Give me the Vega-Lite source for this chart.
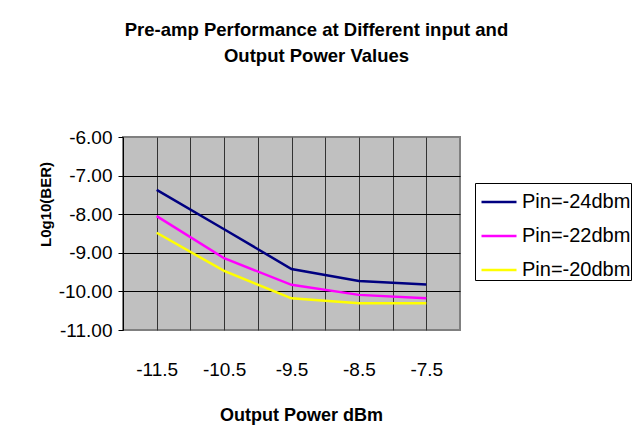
{
  "$schema": "https://vega.github.io/schema/vega-lite/v6.json",
  "width": 337,
  "height": 193,
  "autosize": {"type": "none"},
  "padding": {"left": 123, "top": 137, "right": 172, "bottom": 110},
  "background": "white",
  "config": {
    "font": "Liberation Sans",
    "view": {"fill": "#C0C0C0", "stroke": "#808080", "strokeWidth": 2}
  },
  "title": {
    "text": ["Pre-amp Performance at Different input and", "Output Power Values"],
    "fontSize": 18.5,
    "fontWeight": "bold",
    "color": "black",
    "anchor": "middle",
    "dx": 25,
    "offset": 63,
    "lineHeight": 26
  },
  "data": {
    "values": [
      {"series": "Pin=-24dbm", "out": -11.5, "ber": -7.37},
      {"series": "Pin=-24dbm", "out": -10.5, "ber": -8.39},
      {"series": "Pin=-24dbm", "out": -9.5, "ber": -9.42},
      {"series": "Pin=-24dbm", "out": -8.5, "ber": -9.73},
      {"series": "Pin=-24dbm", "out": -7.5, "ber": -9.82},
      {"series": "Pin=-22dbm", "out": -11.5, "ber": -8.05},
      {"series": "Pin=-22dbm", "out": -10.5, "ber": -9.14},
      {"series": "Pin=-22dbm", "out": -9.5, "ber": -9.83},
      {"series": "Pin=-22dbm", "out": -8.5, "ber": -10.09},
      {"series": "Pin=-22dbm", "out": -7.5, "ber": -10.18},
      {"series": "Pin=-20dbm", "out": -11.5, "ber": -8.48},
      {"series": "Pin=-20dbm", "out": -10.5, "ber": -9.47},
      {"series": "Pin=-20dbm", "out": -9.5, "ber": -10.18},
      {"series": "Pin=-20dbm", "out": -8.5, "ber": -10.31},
      {"series": "Pin=-20dbm", "out": -7.5, "ber": -10.31}
    ]
  },
  "mark": {"type": "line", "strokeWidth": 2.5},
  "encoding": {
    "x": {
      "field": "out",
      "type": "quantitative",
      "scale": {"domain": [-12, -7], "nice": false, "zero": false},
      "axis": {
        "title": "Output Power dBm",
        "values": [-12, -11.5, -11, -10.5, -10, -9.5, -9, -8.5, -8, -7.5],
        "labelExpr": "datum.value % 1 == 0 ? '' : '-' + format(abs(datum.value), '.1f')",
        "ticks": false,
        "tickSize": 0,
        "domain": false,
        "grid": true,
        "gridColor": "#333333",
        "gridWidth": 1,
        "gridOpacity": {"condition": {"test": "datum.value == -12", "value": 0}, "value": 1},
        "labelFontSize": 19,
        "labelColor": "black",
        "labelBaseline": "alphabetic",
        "labelPadding": 45,
        "labelFlush": false,
        "labelOverlap": false,
        "titleFontSize": 18,
        "titleFontWeight": "bold",
        "titleColor": "black",
        "titleX": 178,
        "titleY": 90,
        "titleBaseline": "alphabetic"
      }
    },
    "y": {
      "field": "ber",
      "type": "quantitative",
      "scale": {"domain": [-11, -6], "nice": false, "zero": false},
      "axis": {
        "title": "L0g10(BER)",
        "values": [-11, -10, -9, -8, -7, -6],
        "labelExpr": "'-' + format(abs(datum.value), '.2f')",
        "ticks": true,
        "tickSize": 5,
        "tickColor": "black",
        "domain": true,
        "domainColor": "black",
        "domainWidth": 1,
        "grid": true,
        "gridColor": "black",
        "gridWidth": 1,
        "gridOpacity": {"condition": {"test": "datum.value == -6 || datum.value == -11", "value": 0}, "value": 1},
        "labelFontSize": 19,
        "labelColor": "black",
        "labelPadding": 6,
        "labelFlush": false,
        "labelOverlap": false,
        "titleFontSize": 15,
        "titleFontWeight": "bold",
        "titleColor": "black",
        "titleX": -73,
        "titleY": 67,
        "titleBaseline": "alphabetic"
      }
    },
    "color": {
      "field": "series",
      "type": "nominal",
      "scale": {
        "domain": ["Pin=-24dbm", "Pin=-22dbm", "Pin=-20dbm"],
        "range": ["#000080", "#FF00FF", "#FFFF00"]
      },
      "legend": {
        "title": null,
        "orient": "none",
        "legendX": 352,
        "legendY": 46,
        "symbolType": "stroke",
        "symbolSize": 1225,
        "symbolStrokeWidth": 2.5,
        "symbolOffset": 5,
        "labelOffset": 4,
        "labelFontSize": 20,
        "labelColor": "black",
        "labelLimit": 0,
        "padding": 0,
        "rowPadding": 5,
        "strokeColor": "black",
        "fillColor": "white",
        "cornerRadius": 0
      }
    }
  }
}
